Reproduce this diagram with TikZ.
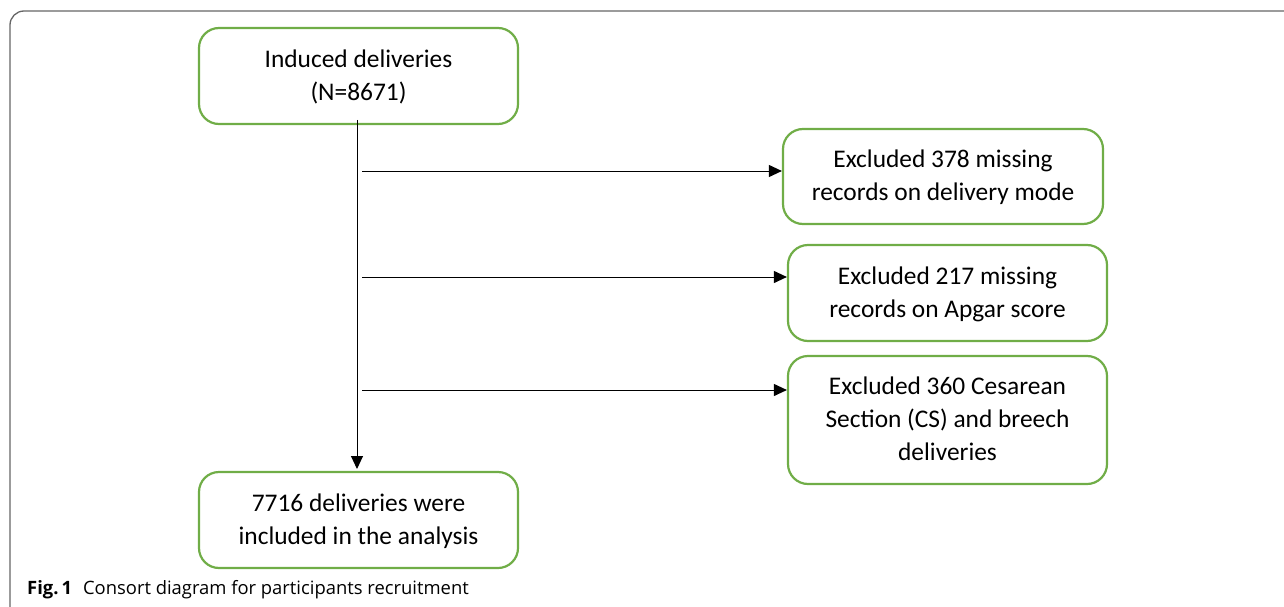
\documentclass[tikz,border=0pt]{standalone}
\usepackage{fontspec}
\setmainfont{Carlito}
\newfontfamily\capfont{Open Sans}
\usetikzlibrary{arrows.meta}
\definecolor{boxgreen}{HTML}{70AD47}
\definecolor{framegray}{HTML}{666666}
\tikzset{
  flowbox/.style={draw=boxgreen, line width=2.2pt, rounded corners=20pt, align=center,
    font=\fontsize{25.4}{33}\selectfont, inner sep=0pt, text depth=2pt},
  flowarrow/.style={draw=black, line width=1pt, -{Triangle[length=13pt,width=12pt]}},
}
\begin{document}
\begin{tikzpicture}[x=1pt,y=-1pt]
\useasboundingbox (0,0) rectangle (1284,607);
\draw[framegray, line width=1.3pt, rounded corners=14pt] (10,620) -- (10,11) -- (1300,11);
\node[flowbox, minimum width=319pt, minimum height=96pt] (top) at (358.5,76) {Induced deliveries\\(N=8671)};
\node[flowbox, minimum width=320pt, minimum height=95pt] (exA) at (943,176.5) {Excluded 378 missing\\records on delivery mode};
\node[flowbox, minimum width=319pt, minimum height=96pt] (exB) at (947.5,293) {Excluded 217 missing\\records on Apgar score};
\node[flowbox, minimum width=319pt, minimum height=128pt] (exC) at (947.5,420) {Excluded 360 Cesarean\\Section (CS) and breech\\deliveries};
\node[flowbox, minimum width=319pt, minimum height=96pt] (bot) at (358.5,520) {7716 deliveries were\\included in the analysis};
\coordinate (vtop) at (357,120);
\coordinate (vbot) at (357,469);
\draw[flowarrow] (vtop) -- (vbot);
\coordinate (sA) at (362,171);
\coordinate (sB) at (362,277);
\coordinate (sC) at (362,390);
\draw[flowarrow] (sA) -- (sA -| exA.west);
\draw[flowarrow] (sB) -- (sB -| exB.west);
\draw[flowarrow] (sC) -- (sC -| exC.west);
\node[anchor=base west, font=\capfont\fontsize{18.4}{22}\selectfont, inner sep=0pt] (cap) at (27,594) {\textbf{Fig.\,1}\hspace{11pt}Consort diagram for participants recruitment};
\end{tikzpicture}
\end{document}
